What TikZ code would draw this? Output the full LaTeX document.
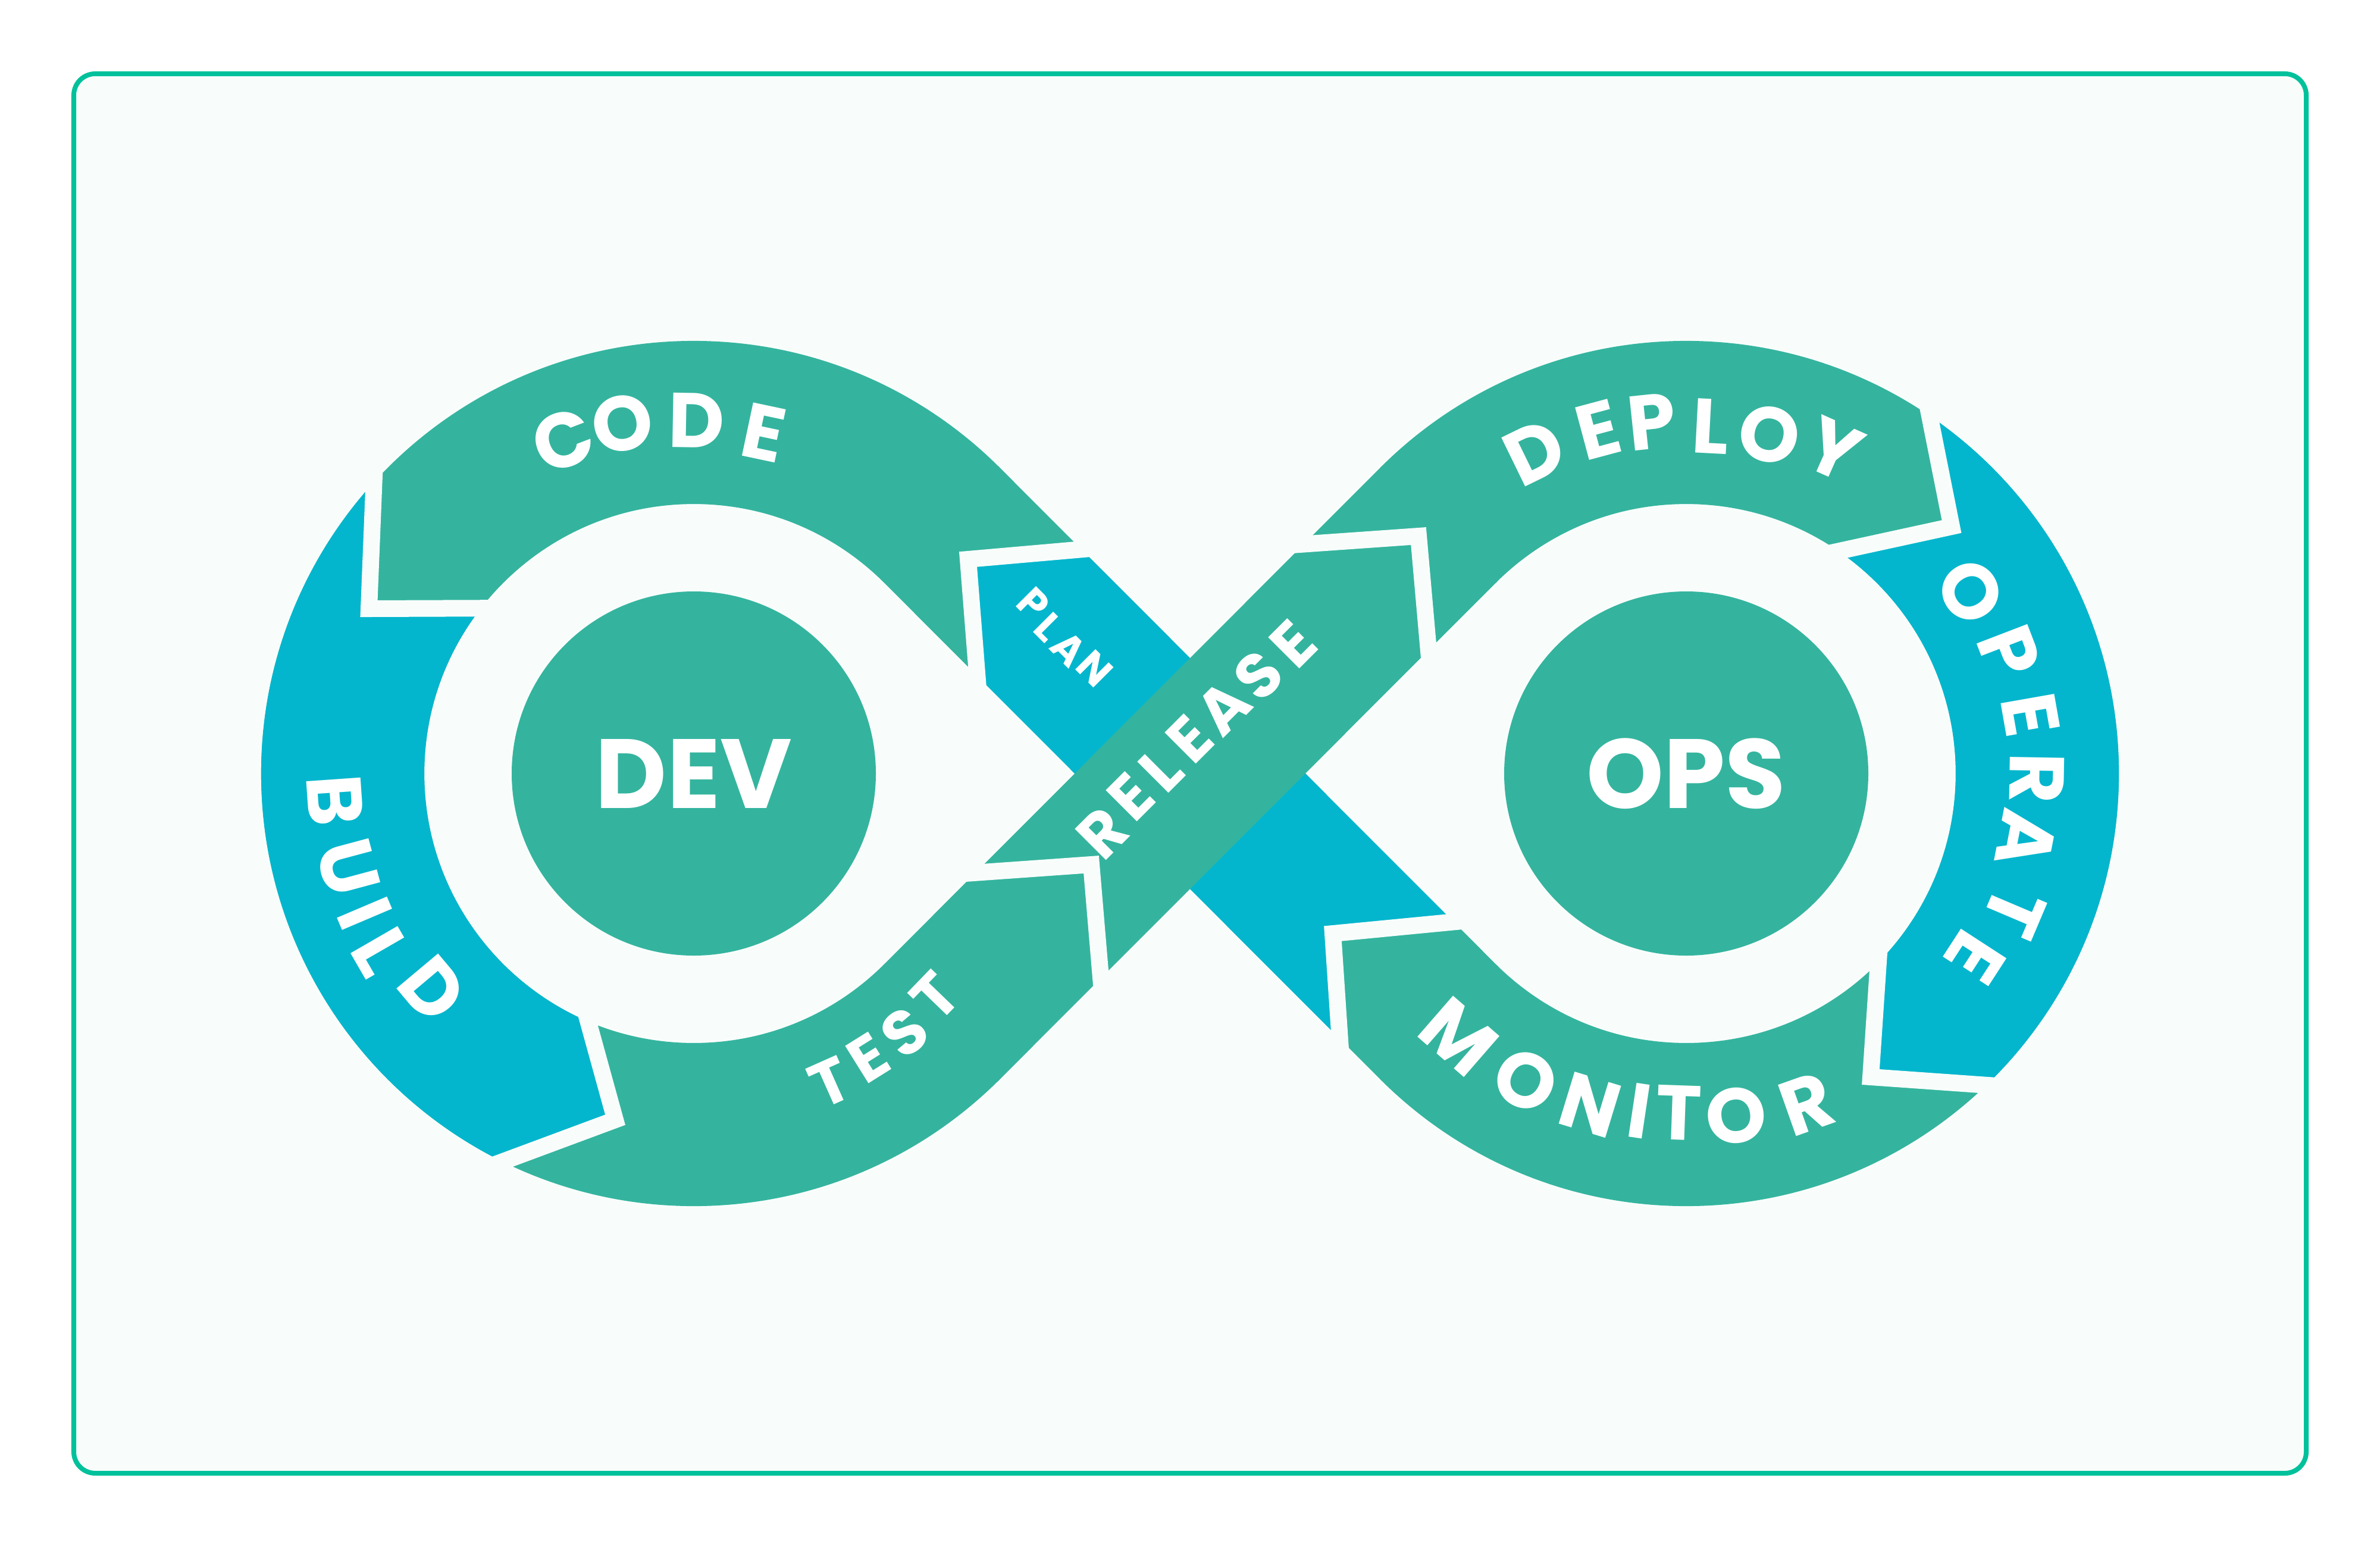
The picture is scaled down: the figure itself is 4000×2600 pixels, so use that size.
\documentclass[tikz,border=0pt]{standalone}
\usepackage{fontspec}
\setmainfont{Poppins}
\definecolor{dgreen}{RGB}{52,180,158}
\definecolor{dblue}{RGB}{3,182,205}
\definecolor{dborder}{RGB}{0,193,155}
\definecolor{dbg}{RGB}{248,253,252}
\newcommand\labfont{\fontsize{37}{37}\selectfont\bfseries}
\newcommand\relfont{\fontsize{30}{30}\selectfont\bfseries}
\newcommand\planfont{\fontsize{19.5}{19.5}\selectfont\bfseries}
\newcommand\devfont{\fontsize{47}{47}\selectfont\bfseries}
\begin{document}
\begin{tikzpicture}[x=0.01cm,y=-0.01cm,
  band/.style={line width=2.74cm},
  gapline/.style={draw=dbg,line width=0.28cm,line join=miter,miter limit=20},
  lab/.style={text=white,inner sep=0pt,font=\labfont},
  rel/.style={text=white,inner sep=0pt,font=\relfont},
  pln/.style={text=white,inner sep=0pt,font=\planfont},
  hub/.style={text=white,inner sep=0pt,font=\devfont}]
\useasboundingbox (0,0) rectangle (4000,2600);
\fill[white] (0,0) rectangle (4000,2600);
\draw[dborder,fill=dbg,line width=0.08cm,rounded corners=0.36cm] (124,124) rectangle (3876,2476);

\coordinate (L) at (1166,1300);
\coordinate (R) at (2834,1300);
\coordinate (T1) at (1580.2,879.8);
\coordinate (T2) at (2419.8,1720.2);
\coordinate (T3) at (1580.2,1720.2);
\coordinate (T4) at (2419.8,879.8);

% base green band
\begin{scope}
\clip (L) -- (2766,-300) -- (-500,-300) -- (-500,2900) -- (2766,2900) -- cycle;
\draw[dgreen,band] (L) circle[radius=590];
\end{scope}
\begin{scope}
\clip (R) -- (1234,-300) -- (4500,-300) -- (4500,2900) -- (1234,2900) -- cycle;
\draw[dgreen,band] (R) circle[radius=590];
\end{scope}
\draw[dgreen,band] (T1) -- (T2);

% BUILD (blue)
\begin{scope}
\clip (908,1021) -- (620,1023) -- (633,709) -- (100,709) -- (100,2300) -- (751,1987) -- (1034,1882) -- (961,1619) -- (L) -- cycle;
\draw[dblue,band] (L) circle[radius=590];
\end{scope}
% OPERATE (blue)
\begin{scope}
\clip (2993,947) -- (3280,885) -- (3224,600) -- (3700,600) -- (3700,2200) -- (3438,1831) -- (3144,1810) -- (3164,1516) -- (R) -- cycle;
\draw[dblue,band] (R) circle[radius=590];
\end{scope}
% PLAN (blue)
\begin{scope}
\clip (1967,910) -- (1627,940) -- (1654,1285) -- (2263,1914) -- (2240,1569) -- (2567,1538) -- cycle;
\draw[dblue,band] (T1) -- (T2);
\end{scope}
% RELEASE diagonal on top
\draw[dgreen,band] (T3) -- (T4);

% gaps (arrow chevrons)
\draw[gapline] (1878,918) -- (1627,940) -- (1647,1195);
\draw[gapline] (631,749) -- (620,1023) -- (868,1022);
\draw[gapline] (972,1657) -- (1034,1882) -- (789,1973);
\draw[gapline] (1580,1471) -- (1834,1453) -- (1855,1702);
\draw[gapline] (2128,919) -- (2384,901) -- (2406,1151);
\draw[gapline] (3231,639) -- (3280,885) -- (3032,939);
\draw[gapline] (3161,1556) -- (3144,1810) -- (3398,1828);
\draw[gapline] (2478,1546) -- (2240,1569) -- (2257,1824);

% hubs
\fill[dgreen] (L) circle[radius=306];
\fill[dgreen] (R) circle[radius=306];
\node[hub] (dev) at (L) {DEV};
\node[hub] (ops) at (R) {OPS};

% CODE
\node[lab,rotate=21] (code1) at (946,740) {C};
\node[lab,rotate=11] (code2) at (1046,712) {O};
\node[lab,rotate=-1] (code3) at (1171,707) {D};
\node[lab,rotate=-12] (code4) at (1283,727) {E};
% BUILD
\node[lab,rotate=-86] (build1) at (563,1345) {B};
\node[lab,rotate=-75] (build2) at (585,1458) {U};
\node[lab,rotate=-67] (build3) at (613,1535) {I};
\node[lab,rotate=-60] (build4) at (641,1600) {L};
\node[lab,rotate=-50] (build5) at (727,1662) {D};
% TEST
\node[rel,rotate=24] (test1) at (1395,1819) {T};
\node[rel,rotate=32] (test2) at (1459,1778) {E};
\node[rel,rotate=40] (test3) at (1520,1735) {S};
\node[rel,rotate=46] (test4) at (1571,1674) {T};
% PLAN
\node[pln,rotate=-45] (plan1) at (1737,1015) {P};
\node[pln,rotate=-45] (plan2) at (1762,1054) {L};
\node[pln,rotate=-45] (plan3) at (1796,1090) {A};
\node[pln,rotate=-45] (plan4) at (1840,1124) {N};
% RELEASE
\node[rel,rotate=45] (rel1) at (1853,1400) {R};
\node[rel,rotate=45] (rel2) at (1900,1339) {E};
\node[rel,rotate=45] (rel3) at (1951,1294) {L};
\node[rel,rotate=45] (rel4) at (1999,1242) {E};
\node[rel,rotate=45] (rel5) at (2056,1189) {A};
\node[rel,rotate=45] (rel6) at (2115,1135) {S};
\node[rel,rotate=45] (rel7) at (2173,1082) {E};
% DEPLOY
\node[lab,rotate=26] (dep1) at (2579,760) {D};
\node[lab,rotate=15] (dep2) at (2686,722) {E};
\node[lab,rotate=6] (dep3) at (2776,709) {P};
\node[lab,rotate=-3] (dep4) at (2875,717) {L};
\node[lab,rotate=-13] (dep5) at (2974,730) {O};
\node[lab,rotate=-24] (dep6) at (3082,756) {Y};
% OPERATE
\node[lab,rotate=-57] (op1) at (3312,994) {O};
\node[lab,rotate=-69] (op2) at (3377,1096) {P};
\node[lab,rotate=-80] (op3) at (3413,1201) {E};
\node[lab,rotate=-91] (op4) at (3423,1308) {R};
\node[lab,rotate=-101] (op5) at (3405,1410) {A};
\node[lab,rotate=-113] (op6) at (3385,1533) {T};
\node[lab,rotate=-123] (op7) at (3320,1609) {E};
% MONITOR
\node[lab,rotate=-41] (mon1) at (2452,1742) {M};
\node[lab,rotate=-28] (mon2) at (2564,1816) {O};
\node[lab,rotate=-17] (mon3) at (2673,1857) {N};
\node[lab,rotate=-8.5] (mon4) at (2755,1867) {I};
\node[lab,rotate=-2] (mon5) at (2821,1870) {T};
\node[lab,rotate=8] (mon6) at (2918,1875) {O};
\node[lab,rotate=19.5] (mon7) at (3036,1855) {R};
\end{tikzpicture}
\end{document}
